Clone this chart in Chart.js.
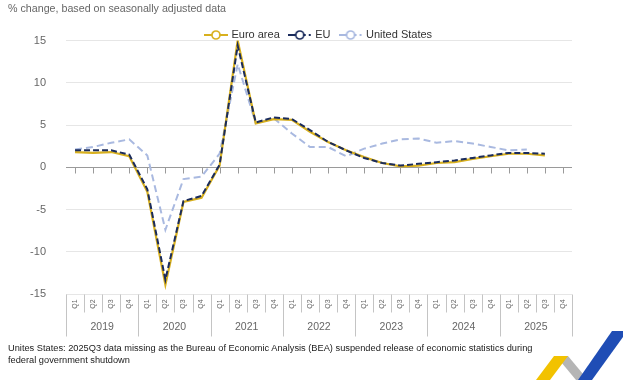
<!DOCTYPE html>
<html><head><meta charset="utf-8">
<script src="https://cdn.jsdelivr.net/npm/chart.js@4"></script>
<style>
html,body{margin:0;padding:0;background:#fff;width:623px;height:380px;overflow:hidden;font-family:"Liberation Sans",Arial,sans-serif;}
#c{position:absolute;left:0;top:0;}
#title{position:absolute;left:8px;top:2px;font-size:10.7px;color:#666;white-space:nowrap;}
#note{position:absolute;left:8px;top:342px;font-size:9.25px;color:#1a1a1a;line-height:12px;white-space:nowrap;}
#logo{position:absolute;left:533px;top:328px;}
</style></head>
<body>
<canvas id="c" width="623" height="380"></canvas>
<div id="title">% change, based on seasonally adjusted data</div>
<div id="note">Unites States: 2025Q3 data missing as the Bureau of Economic Analysis (BEA) suspended release of economic statistics during<br>federal government shutdown</div>
<svg id="logo" width="90" height="52" viewBox="0 0 90 52">
  <polygon points="23,28 35,28 55,52 43,52" fill="#b5b5b5"/>
  <polygon points="3,52 21,28 35,28 17,52" fill="#f2c200"/>
  <polygon points="45,52 59,52 90,9 90,3 79,3" fill="#1f4db5"/>
</svg>
<script>
// ---- data ----
const years = ['2019','2020','2021','2022','2023','2024','2025'];
const quarters = ['Q1','Q2','Q3','Q4'];
const seriesNames = ['Euro area','EU','United States'];
const euroArea = [1.8,1.7,1.8,1.3, -2.9,-13.9,-4.1,-3.6, 0.2,15.0,5.2,5.7, 5.6,4.2,3.0,2.0, 1.2,0.5,0.1,0.2, 0.5,0.6,1.0,1.3, 1.6,1.6,1.4,null];
const eu       = [2.0,2.0,2.0,1.5, -2.6,-13.3,-4.0,-3.4, 0.3,14.4,5.3,5.9, 5.7,4.4,3.0,2.0, 1.1,0.5,0.2,0.4, 0.6,0.8,1.1,1.4, 1.7,1.7,1.6,null];
const us       = [2.1,2.4,2.9,3.3, 1.4,-7.4,-1.4,-1.1, 1.6,12.2,5.2,5.8, 4.0,2.4,2.4,1.3, 2.2,2.8,3.3,3.4, 2.9,3.1,2.8,2.4, 2.0,2.1,null,null];
const yMin = -15, yMax = 15, yStep = 5;

const categories = [];
years.forEach(y => quarters.forEach(q => categories.push(y + q)));

const FONT = '"Liberation Sans", Arial, sans-serif';
const colors = ['#d8b01e', '#1a2b5c', '#a9b9e0'];
const dashes = [[], [6,3], [7,4]];

function makeMarker(color, dash){
  const c = document.createElement('canvas'); c.width = 24; c.height = 12;
  const g = c.getContext('2d');
  g.strokeStyle = color; g.lineWidth = 2;
  g.beginPath(); g.moveTo(0,6); g.lineTo(8,6); g.stroke();
  g.setLineDash(dash.length ? [2,3] : []);
  g.beginPath(); g.moveTo(16,6); g.lineTo(24,6); g.stroke();
  g.setLineDash([]);
  g.beginPath(); g.arc(12,6,4,0,Math.PI*2); g.fillStyle='#fff'; g.fill(); g.lineWidth=1.7; g.stroke();
  return c;
}
const markers = colors.map((c,i) => makeMarker(c, dashes[i]));

const groupedAxis = {
  id: 'groupedAxis',
  afterLayout(chart){
    const lg = chart.legend;
    if (lg) { const dy = 19.5 - lg.top; lg.top += dy; lg.bottom += dy; }
  },
  beforeDatasetsDraw(chart){
    const {ctx, chartArea, scales:{x, y}} = chart;
    const y0 = Math.round(y.getPixelForValue(0)) + 0.5;
    ctx.save();
    ctx.strokeStyle = '#9a9a9a'; ctx.lineWidth = 1;
    ctx.beginPath(); ctx.moveTo(chartArea.left, y0); ctx.lineTo(chartArea.right, y0);
    for (let i = 0; i < categories.length; i++) {
      const px = Math.round(x.getPixelForValue(i)) + 0.5;
      ctx.moveTo(px, y0); ctx.lineTo(px, y0 + 6);
    }
    ctx.stroke();
    ctx.restore();
  },
  afterDraw(chart){
    const {ctx, chartArea, scales:{x, y}} = chart;
    const yb = Math.round(y.getPixelForValue(yMin)) + 0.5;
    const n = categories.length;
    const w = (chartArea.right - chartArea.left) / n;
    ctx.save();
    ctx.strokeStyle = '#c4c4c4'; ctx.lineWidth = 1;
    ctx.beginPath();
    for (let i = 0; i <= n; i++) {
      const px = Math.round(chartArea.left + i * w) + 0.5;
      ctx.moveTo(px, yb);
      ctx.lineTo(px, yb + (i % 4 === 0 ? 42 : 18));
    }
    ctx.stroke();
    ctx.fillStyle = '#666';
    ctx.font = '7px ' + FONT;
    ctx.textAlign = 'center'; ctx.textBaseline = 'middle';
    for (let i = 0; i < n; i++) {
      const px = x.getPixelForValue(i);
      ctx.save(); ctx.translate(px, yb + 9.5); ctx.rotate(-Math.PI/2);
      ctx.fillText(quarters[i % 4], 0, 0); ctx.restore();
    }
    ctx.font = '10.5px ' + FONT;
    years.forEach((yr, k) => {
      const cx = (x.getPixelForValue(k*4) + x.getPixelForValue(k*4+3)) / 2;
      ctx.fillText(yr, cx, yb + 33);
    });
    ctx.restore();
  }
};

const datasets = [euroArea, eu, us].map((d, i) => ({
  label: seriesNames[i],
  data: d,
  borderColor: colors[i],
  backgroundColor: colors[i],
  borderWidth: i === 0 ? 2.2 : 2,
  borderDash: dashes[i],
  pointRadius: 0,
  tension: 0,
  fill: false,
  order: [2,1,3][i]
}));

new Chart(document.getElementById('c'), {
  type: 'line',
  data: { labels: categories, datasets },
  options: {
    responsive: false,
    animation: false,
    devicePixelRatio: 1,
    layout: { padding: { top: 9.5, left: 0, right: 51, bottom: 86 } },
    scales: {
      x: { type: 'category', display: false, offset: true },
      y: {
        min: yMin, max: yMax,
        ticks: { stepSize: yStep, color: '#666', font: { size: 11, family: FONT }, padding: 20 },
        grid: { color: c => c.tick && c.tick.value === 0 ? 'rgba(0,0,0,0)' : '#e6e6e6', drawTicks: false },
        border: { display: false },
        afterFit: s => { s.width = 66; }
      }
    },
    plugins: {
      tooltip: { enabled: false },
      legend: {
        position: 'top', fullSize: false, align: 'center',
        labels: {
          usePointStyle: true, pointStyleWidth: 20, boxHeight: 11,
          padding: 10, color: '#333', font: { size: 11, family: FONT },
          generateLabels: chart => chart.data.datasets.map((ds, i) => ({
            text: ds.label, pointStyle: markers[i], datasetIndex: i, hidden: false,
            lineWidth: 0, strokeStyle: 'rgba(0,0,0,0)', fillStyle: 'rgba(0,0,0,0)', fontColor: '#333'
          }))
        }
      }
    }
  },
  plugins: [groupedAxis]
});
</script>
</body></html>
